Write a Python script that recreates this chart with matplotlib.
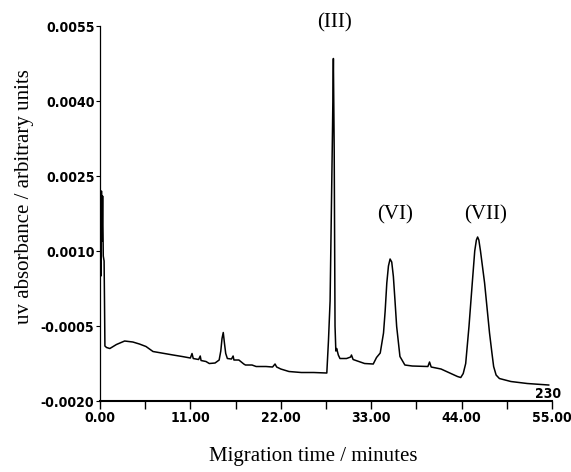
import matplotlib
matplotlib.use("Agg")
from matplotlib import pyplot as plt
from matplotlib import font_manager

# electropherogram trace (time in min, absorbance)
time_min = [0.00, 0.08, 0.12, 0.18, 0.25, 0.32, 0.40, 0.50, 0.55, 0.60, 0.80, 1.2, 2.0, 3.0, 4.0,
            4.8, 5.6, 6.45, 7.5, 8.9, 10.0, 11.0, 11.2, 11.35, 12.0, 12.2, 12.3, 12.9, 13.3, 14.0,
            14.5, 14.7, 14.85, 15.0, 15.15, 15.3, 15.5, 16.0, 16.2, 16.3, 16.9, 17.5, 17.7, 18.5,
            19.0, 20.2, 21.0, 21.3, 21.5, 22.0, 23.0, 24.5, 26.0, 27.6, 27.8, 28.0, 28.3, 28.4,
            28.5, 28.6, 28.7, 28.8, 29.0, 29.2, 30.0, 30.5, 30.6, 30.8, 31.5, 32.2, 33.25, 33.65,
            34.1, 34.5, 34.7, 34.9, 35.1, 35.3, 35.5, 35.7, 35.9, 36.1, 36.5, 37.1, 38.0, 39.9,
            40.1, 40.3, 41.5, 42.7, 43.5, 43.9, 44.2, 44.5, 44.9, 45.3, 45.6, 45.8, 45.95, 46.1,
            46.3, 46.8, 47.4, 47.7, 47.9, 48.2, 48.6, 50.0, 52.0, 54.6]
absorbance = [-0.0002, 0.0021, 0.0005, 0.0022, 0.0012, 0.0021, 0.0009, 0.0008, 0.0000, -0.0009,
              -0.00093, -0.00095, -0.00087, -0.00080, -0.00082, -0.00086, -0.00091, -0.00101,
              -0.00104, -0.00108, -0.00111, -0.00114, -0.00105, -0.00115, -0.00117, -0.00110,
              -0.00119, -0.00121, -0.00125, -0.00124, -0.00118, -0.00100, -0.00075, -0.00063,
              -0.00085, -0.00105, -0.00115, -0.00116, -0.00110, -0.00118, -0.00118, -0.00126,
              -0.00128, -0.00128, -0.00131, -0.00131, -0.00132, -0.00126, -0.00132, -0.00136,
              -0.00141, -0.00143, -0.00143, -0.00144, -0.00080, 0.00000, 0.00350, 0.00485,
              0.00300, -0.00050, -0.00100, -0.00095, -0.00108, -0.00115, -0.00115, -0.00112,
              -0.00108, -0.00117, -0.00121, -0.00125, -0.00126, -0.00113, -0.00104, -0.00064,
              -0.00020, 0.00036, 0.00070, 0.00084, 0.00078, 0.00049, 0.00000, -0.00051, -0.00111,
              -0.00128, -0.00130, -0.00131, -0.00122, -0.00132, -0.00136, -0.00145, -0.00151,
              -0.00153, -0.00145, -0.00125, -0.00051, 0.00036, 0.00100, 0.00122, 0.00128,
              0.00122, 0.00100, 0.00036, -0.00064, -0.00105, -0.00131, -0.00148, -0.00155,
              -0.00161, -0.00165, -0.00168]

x_ticks = [0, 11, 22, 33, 44, 55]
x_tick_labels = ['0.00', '11.00', '22.00', '33.00', '44.00', '55.00']
y_ticks = [0.0055, 0.0040, 0.0025, 0.0010, -0.0005, -0.0020]
y_tick_labels = ['0.0055', '0.0040', '0.0025', '0.0010', '-0.0005', '-0.0020']

peak_names = ['(III)', '(VI)', '(VII)']
peak_pos = [(28.5, 0.00556), (35.9, 0.00172), (46.9, 0.00172)]

tickfont = font_manager.FontProperties(family='DejaVu Sans', weight='bold',
                                       stretch='condensed', size=10)
serif = ['Liberation Serif', 'DejaVu Serif']

fig = plt.figure(figsize=(5.71, 4.72), dpi=100)
ax = fig.add_axes([0.1751, 0.1504, 0.7916, 0.7945])
ax.plot(time_min, absorbance, c='black', lw=1.1)

ax.set_xlim(0, 55)
ax.set_ylim(-0.0020, 0.0055)
ax.spines['top'].set_visible(False)
ax.spines['right'].set_visible(False)
ax.spines['left'].set_linewidth(0.9)
ax.spines['bottom'].set_linewidth(1.5)

ax.set_xticks(x_ticks)
ax.set_xticklabels(x_tick_labels)
ax.set_xticks([5.5, 16.5, 27.5, 38.5, 49.5], minor=True)
ax.set_yticks(y_ticks)
ax.set_yticklabels(y_tick_labels)
for lab in ax.get_xticklabels() + ax.get_yticklabels():
    lab.set_fontproperties(tickfont)
ax.tick_params(axis='x', which='both', direction='out', length=5.5, width=1.0, pad=2)
ax.tick_params(axis='y', direction='out', length=3, width=0.8, pad=1)

for name, (px, py) in zip(peak_names, peak_pos):
    ax.text(px, py, name, ha='center', va='center', family=serif, size=15, clip_on=False)

ax.text(56.1, -0.00186, '230', ha='right', va='center', fontproperties=tickfont)

ax.set_xlabel('Migration time / minutes', family=serif, size=15)
ax.set_ylabel('uv absorbance / arbitrary units', family=serif, size=15)
ax.xaxis.set_label_coords(0.471, -0.1485)
ax.yaxis.set_label_coords(-0.166, 0.544)
ax.xaxis.label.set_va('center')
ax.yaxis.label.set_va('center')

fig.savefig('out.png', dpi=100)
